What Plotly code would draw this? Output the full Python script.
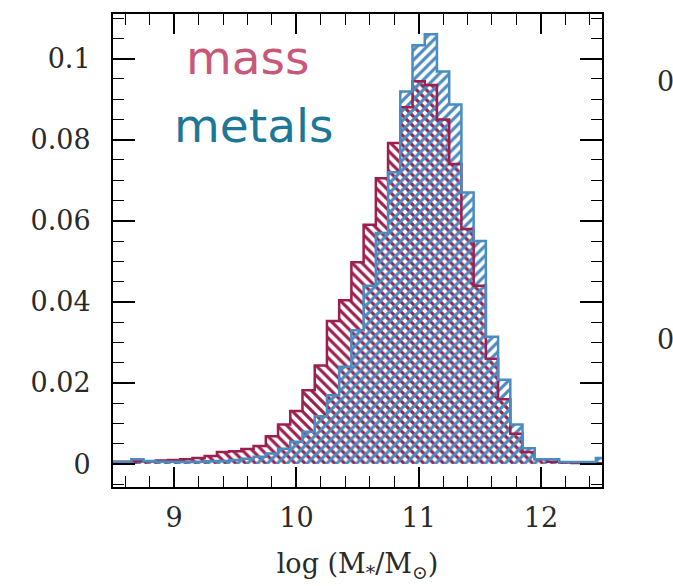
import plotly.graph_objects as go

# ---- data ----
bin_centers = [round(8.5 + 0.1 * i, 2) for i in range(41)]
mass = [0.0006, 0.0006, 0.0007, 0.0007, 0.0009, 0.0010, 0.0012, 0.0015, 0.0020, 0.0030,
        0.0032, 0.0037, 0.0045, 0.0069, 0.0098, 0.0131, 0.0182, 0.0243, 0.0353, 0.0404,
        0.0498, 0.0590, 0.0705, 0.0792, 0.0880, 0.0944, 0.0935, 0.0850, 0.0740, 0.0580,
        0.0440, 0.0260, 0.0160, 0.0075, 0.0030, 0.0012, 0.0006, 0.0004, 0.0003, 0.0002,
        0.0002]
metals = [0.0005, 0.0005, 0.0012, 0.0008, 0.0006, 0.0006, 0.0005, 0.0006, 0.0007, 0.0008,
          0.0010, 0.0013, 0.0018, 0.0026, 0.0038, 0.0055, 0.0080, 0.0118, 0.0170, 0.0240,
          0.0330, 0.0440, 0.0570, 0.0720, 0.0919, 0.1033, 0.1060, 0.0968, 0.0887, 0.0670,
          0.0550, 0.0314, 0.0208, 0.0098, 0.0039, 0.0012, 0.0012, 0.0005, 0.0005, 0.0005,
          0.0015]
bin_width = 0.1
x_tickvals = [9, 10, 11, 12]
x_ticktext = ["9", "10", "11", "12"]
y_tickvals = [0, 0.02, 0.04, 0.06, 0.08, 0.1]
y_ticktext = ["0", "0.02", "0.04", "0.06", "0.08", "0.1"]
series_names = ["mass", "metals"]

RED = "#9c1f4e"
BLUE = "#4a8cc0"
RED_TXT = "#c8587a"
BLUE_TXT = "#1d7898"
SERIF = "DejaVu Serif"
TXT = "#2a2a2a"

edges = [c - bin_width / 2 for c in bin_centers] + [bin_centers[-1] + bin_width / 2]

fig = go.Figure()
for name, vals, col, shape in [("mass", mass, RED, "\\"), ("metals", metals, BLUE, "/")]:
    fig.add_trace(go.Bar(
        x=bin_centers, y=vals, width=bin_width, name=name, showlegend=False,
        marker=dict(color="rgba(0,0,0,0)", line=dict(width=0),
                    pattern=dict(shape=shape, fgcolor=col, bgcolor="rgba(0,0,0,0)",
                                 size=7, solidity=0.45, fillmode="replace")),
    ))
for name, vals, col in [("mass", mass, RED), ("metals", metals, BLUE)]:
    fig.add_trace(go.Scatter(
        x=edges, y=list(vals) + [vals[-1]], mode="lines", line_shape="hv",
        line=dict(color=col, width=2.5), showlegend=False, hoverinfo="skip",
    ))

fig.update_layout(
    width=673, height=586,
    margin=dict(l=113, r=71, t=12, b=98),
    paper_bgcolor="white", plot_bgcolor="white",
    barmode="overlay", bargap=0,
    xaxis=dict(
        range=[8.5, 12.5], tickvals=x_tickvals, ticktext=x_ticktext,
        ticks="inside", ticklen=20, tickwidth=1.5, tickcolor="black",
        showline=True, linecolor="black", linewidth=2, mirror="allticks",
        showgrid=False, zeroline=False, ticklabelstandoff=6,
        tickfont=dict(family=SERIF, size=27, color=TXT),
        minor=dict(dtick=0.2, ticks="inside", ticklen=11, tickwidth=1.2, tickcolor="black"),
        title=dict(text="log (M<sub>*</sub>/M<sub>⊙</sub>)",
                   font=dict(family=SERIF, size=27, color=TXT), standoff=22),
    ),
    yaxis=dict(
        range=[-0.00564, 0.111], tickvals=y_tickvals, ticktext=y_ticktext,
        ticks="inside", ticklen=22, tickwidth=1.5, tickcolor="black",
        showline=True, linecolor="black", linewidth=2, mirror="allticks",
        showgrid=False, zeroline=False, ticklabelstandoff=15,
        tickfont=dict(family=SERIF, size=27, color=TXT),
        minor=dict(dtick=0.005, ticks="inside", ticklen=11, tickwidth=1.2, tickcolor="black"),
    ),
    annotations=[
        dict(text=series_names[0], xref="paper", yref="paper", x=0.276, y=0.907,
             xanchor="center", yanchor="middle",
             showarrow=False, font=dict(family="DejaVu Sans", size=47, color=RED_TXT)),
        dict(text=series_names[1], xref="paper", yref="paper", x=0.288, y=0.765,
             xanchor="center", yanchor="middle",
             showarrow=False, font=dict(family="DejaVu Sans", size=47, color=BLUE_TXT)),
        dict(text="0", xref="paper", yref="paper", x=1.108, y=0.857,
             xanchor="left", yanchor="middle",
             showarrow=False, font=dict(family=SERIF, size=27, color=TXT)),
        dict(text="0", xref="paper", yref="paper", x=1.108, y=0.311,
             xanchor="left", yanchor="middle",
             showarrow=False, font=dict(family=SERIF, size=27, color=TXT)),
    ],
)

fig.write_html("out.html")
